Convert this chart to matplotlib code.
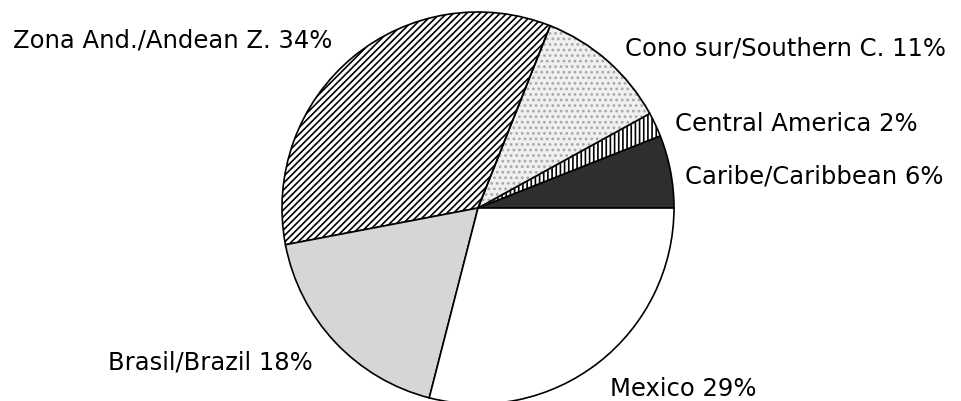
import matplotlib
matplotlib.use("Agg")
import matplotlib.pyplot as plt
import matplotlib.patches as mpatches

labels = ["Caribe/Caribbean 6%", "Central America 2%", "Cono sur/Southern C. 11%",
          "Zona And./Andean Z. 34%", "Brasil/Brazil 18%", "Mexico 29%"]
values = [6, 2, 11, 34, 18, 29]

facecolors = ["#2e2e2e", "white", "#f0f0f0", "white", "#d6d6d6", "white"]
hatches = [None, "||||", "...", "/////", None, None]

# label anchor positions in pixel coords (left, baseline)
label_pos = [(685, 184), (675, 131), (625, 56), (13, 47), (108, 370), (610, 396)]

W, H = 962, 402
plt.rcParams['hatch.linewidth'] = 1.2
fig = plt.figure(figsize=(W / 100, H / 100), dpi=100)
ax = fig.add_axes([0, 0, 1, 1])

cx, cy, r = 478, 209, 196
wedges, _ = ax.pie(values, startangle=0, counterclock=True,
                   center=(cx, H - cy), radius=r,
                   wedgeprops=dict(edgecolor="black", linewidth=1.2))
for w, fc, h in zip(wedges, facecolors, hatches):
    w.set_facecolor(fc)
    if h:
        w.set_hatch(h)
        if h == "...":
            w.set_edgecolor("#a8a8a8")
            ax.add_patch(mpatches.Wedge(w.center, w.r, w.theta1, w.theta2,
                                        fill=False, edgecolor="black", linewidth=1.2))

for lab, (x, y) in zip(labels, label_pos):
    ax.text(x, H - y, lab, fontsize=17.5, family="DejaVu Sans",
            ha="left", va="baseline", color="black")

ax.set_xlim(0, W)
ax.set_ylim(0, H)
ax.set_aspect("equal")
ax.axis("off")
fig.savefig("out.png", dpi=100)
